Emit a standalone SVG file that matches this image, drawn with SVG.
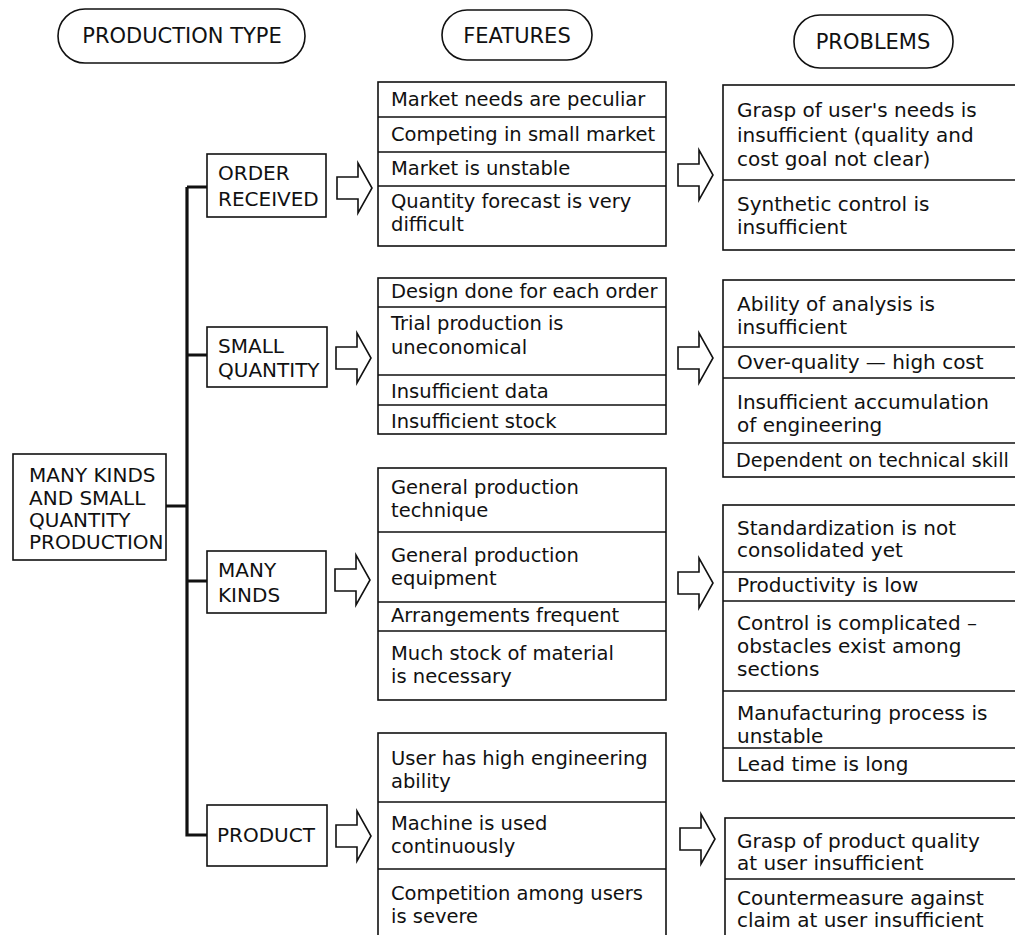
<svg xmlns="http://www.w3.org/2000/svg" xmlns:xlink="http://www.w3.org/1999/xlink" width="1015" height="935" viewBox="0 0 1015 935">
<style>
  .bx{fill:#fff;stroke:#111;stroke-width:1.6}
  .dv{stroke:#111;stroke-width:1.6}
  .t{font-family:"DejaVu Sans",sans-serif;font-size:19.5px;fill:#111}
  .p{font-family:"DejaVu Sans",sans-serif;font-size:20px;fill:#111}
  .c{font-family:"DejaVu Sans",sans-serif;font-size:20px;fill:#111}
  .h{font-family:"DejaVu Sans",sans-serif;font-size:21px;fill:#111;text-anchor:middle}
  .tr{fill:none;stroke:#111;stroke-width:3.2}
  .ar{fill:#fff;stroke:#111;stroke-width:1.6;stroke-linejoin:miter}
</style>
<defs>
  <path id="arr" d="M0,-11 L21,-11 L21,-25 L35,0 L21,25 L21,11 L0,11 Z"/>
</defs>
<rect width="1015" height="935" fill="#fff"/>

<g id="hdr-type"><rect class="bx" x="58" y="9" width="247" height="54" rx="27"/><text class="h" x="182" y="43">PRODUCTION TYPE</text></g>
<g id="hdr-features"><rect class="bx" x="442" y="10" width="150" height="50" rx="25"/><text class="h" x="517" y="43">FEATURES</text></g>
<g id="hdr-problems"><rect class="bx" x="794" y="15" width="159" height="53" rx="26"/><text class="h" x="873" y="49">PROBLEMS</text></g>

<g id="connectors">
  <path class="tr" d="M187,187 V835 H207"/>
  <path class="tr" d="M187,187 H207 M187,355 H207 M187,581 H207 M166,506 H187"/>
  <use href="#arr" class="ar" x="337" y="188"/>
  <use href="#arr" class="ar" x="336" y="358"/>
  <use href="#arr" class="ar" x="335" y="580"/>
  <use href="#arr" class="ar" x="336" y="836"/>
  <use href="#arr" class="ar" x="678" y="175"/>
  <use href="#arr" class="ar" x="678" y="358"/>
  <use href="#arr" class="ar" x="678" y="583"/>
  <use href="#arr" class="ar" x="680" y="839"/>
</g>

<g id="main">
  <rect class="bx" x="13" y="454" width="153" height="106"/>
  <text class="c" x="29" y="482">MANY KINDS</text>
  <text class="c" x="29" y="505">AND SMALL</text>
  <text class="c" x="29" y="527">QUANTITY</text>
  <text class="c" x="29" y="549">PRODUCTION</text>
</g>

<g id="type-order">
  <rect class="bx" x="207" y="154" width="119" height="63"/>
  <text class="c" x="218" y="180">ORDER</text>
  <text class="c" x="218" y="206">RECEIVED</text>
</g>
<g id="type-small">
  <rect class="bx" x="207" y="327" width="120" height="60"/>
  <text class="c" x="218" y="353">SMALL</text>
  <text class="c" x="218" y="377">QUANTITY</text>
</g>
<g id="type-many">
  <rect class="bx" x="207" y="551" width="119" height="62"/>
  <text class="c" x="218" y="577">MANY</text>
  <text class="c" x="218" y="602">KINDS</text>
</g>
<g id="type-product">
  <rect class="bx" x="207" y="805" width="120" height="61"/>
  <text class="c" x="217" y="842">PRODUCT</text>
</g>

<g id="feat-order">
  <rect class="bx" x="378" y="82" width="288" height="164"/>
  <path class="dv" d="M378,117 H666 M378,152 H666 M378,186 H666"/>
  <text class="t" x="391" y="106">Market needs are peculiar</text>
  <text class="t" x="391" y="141">Competing in small market</text>
  <text class="t" x="391" y="175">Market is unstable</text>
  <text class="t" x="391" y="208">Quantity forecast is very</text>
  <text class="t" x="391" y="231">difficult</text>
</g>
<g id="feat-small">
  <rect class="bx" x="378" y="278" width="288" height="156"/>
  <path class="dv" d="M378,307 H666 M378,375 H666 M378,405 H666"/>
  <text class="t" x="391" y="298">Design done for each order</text>
  <text class="t" x="391" y="330">Trial production is</text>
  <text class="t" x="391" y="354">uneconomical</text>
  <text class="t" x="391" y="398">Insufficient data</text>
  <text class="t" x="391" y="428">Insufficient stock</text>
</g>
<g id="feat-many">
  <rect class="bx" x="378" y="468" width="288" height="232"/>
  <path class="dv" d="M378,532 H666 M378,602 H666 M378,631 H666"/>
  <text class="t" x="391" y="494">General production</text>
  <text class="t" x="391" y="517">technique</text>
  <text class="t" x="391" y="562">General production</text>
  <text class="t" x="391" y="585">equipment</text>
  <text class="t" x="391" y="622">Arrangements frequent</text>
  <text class="t" x="391" y="660">Much stock of material</text>
  <text class="t" x="391" y="683">is necessary</text>
</g>
<g id="feat-product">
  <rect class="bx" x="378" y="733" width="288" height="210"/>
  <path class="dv" d="M378,802 H666 M378,869 H666"/>
  <text class="t" x="391" y="765">User has high engineering</text>
  <text class="t" x="391" y="788">ability</text>
  <text class="t" x="391" y="830">Machine is used</text>
  <text class="t" x="391" y="853">continuously</text>
  <text class="t" x="391" y="900">Competition among users</text>
  <text class="t" x="391" y="923">is severe</text>
</g>

<g id="prob-order">
  <rect class="bx" x="723" y="85" width="310" height="165"/>
  <path class="dv" d="M723,180 H1015"/>
  <text class="p" x="737" y="117">Grasp of user's needs is</text>
  <text class="p" x="737" y="142">insufficient (quality and</text>
  <text class="p" x="737" y="166">cost goal not clear)</text>
  <text class="p" x="737" y="211">Synthetic control is</text>
  <text class="p" x="737" y="234">insufficient</text>
</g>
<g id="prob-small">
  <rect class="bx" x="723" y="280" width="310" height="197"/>
  <path class="dv" d="M723,347 H1015 M723,378 H1015 M723,443 H1015"/>
  <text class="p" x="737" y="311">Ability of analysis is</text>
  <text class="p" x="737" y="334">insufficient</text>
  <text class="p" x="737" y="369">Over-quality — high cost</text>
  <text class="p" x="737" y="409">Insufficient accumulation</text>
  <text class="p" x="737" y="432">of engineering</text>
  <text class="p" x="736" y="467" style="font-size:19.2px">Dependent on technical skill</text>
</g>
<g id="prob-many">
  <rect class="bx" x="723" y="505" width="310" height="276"/>
  <path class="dv" d="M723,572 H1015 M723,601 H1015 M723,691 H1015 M723,748 H1015"/>
  <text class="p" x="737" y="535">Standardization is not</text>
  <text class="p" x="737" y="557">consolidated yet</text>
  <text class="p" x="737" y="592">Productivity is low</text>
  <text class="p" x="737" y="630">Control is complicated –</text>
  <text class="p" x="737" y="653">obstacles exist among</text>
  <text class="p" x="737" y="676">sections</text>
  <text class="p" x="737" y="720">Manufacturing process is</text>
  <text class="p" x="737" y="743">unstable</text>
  <text class="p" x="737" y="771">Lead time is long</text>
</g>
<g id="prob-product">
  <rect class="bx" x="725" y="818" width="310" height="130"/>
  <path class="dv" d="M725,879 H1015"/>
  <text class="p" x="737" y="848">Grasp of product quality</text>
  <text class="p" x="737" y="870">at user insufficient</text>
  <text class="p" x="737" y="905">Countermeasure against</text>
  <text class="p" x="737" y="927">claim at user insufficient</text>
</g>
</svg>
